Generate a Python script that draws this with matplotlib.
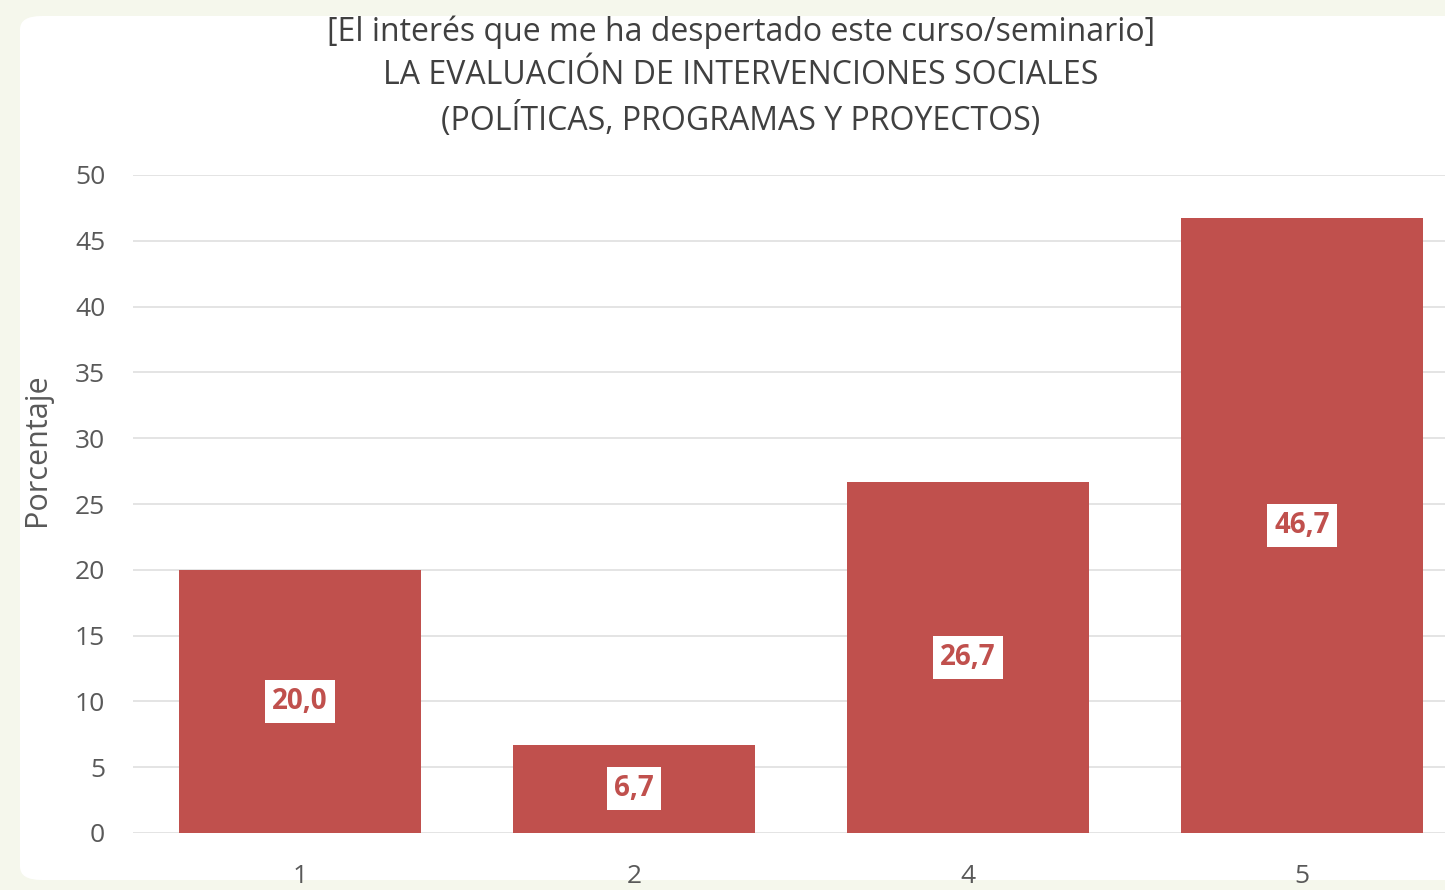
import matplotlib
matplotlib.use("Agg")
import matplotlib.pyplot as plt
from matplotlib.patches import FancyBboxPatch
import numpy as np

categories = ["1", "2", "4", "5"]
values = [20.0, 6.7, 26.7, 46.7]
value_labels = ["20,0", "6,7", "26,7", "46,7"]
yticks = [0, 5, 10, 15, 20, 25, 30, 35, 40, 45, 50]
title_lines = ["[El interés que me ha despertado este curso/seminario]",
               "LA EVALUACIÓN DE INTERVENCIONES SOCIALES",
               "(POLÍTICAS, PROGRAMAS Y PROYECTOS)"]
ylabel = "Porcentaje"

plt.rcParams['font.family'] = ['Open Sans', 'DejaVu Sans']
W, H = 1445, 890
fig = plt.figure(figsize=(W / 100, H / 100), dpi=100)
fig.patch.set_facecolor("#F5F7EC")

panel = FancyBboxPatch((20 / W, 10 / H), (W + 40) / W, (H - 26) / H,
                       boxstyle="round,pad=0,rounding_size=0.015",
                       transform=fig.transFigure, facecolor="white",
                       edgecolor="none", zorder=-10)
fig.patches.append(panel)

bar_color = "#C0504D"
text_color = "#595959"

left, right = 133, 133 + 4 * 334
top, bottom = 175, 833
ax = fig.add_axes([left / W, 1 - bottom / H, (right - left) / W, (bottom - top) / H])
ax.set_zorder(1)
ax.set_facecolor("none")
x = np.arange(len(categories))
ax.bar(x, values, width=0.727, color=bar_color, zorder=2)
ax.set_xlim(-0.5, len(categories) - 0.5)
ax.set_ylim(0, 50)
ax.set_yticks(yticks)
ax.set_xticks(x)
ax.set_xticklabels(categories)
ax.yaxis.grid(True, color="#E4E4E4", linewidth=1.4, zorder=0)
ax.set_axisbelow(True)
for s in ax.spines.values():
    s.set_visible(False)
ax.tick_params(axis='both', length=0, labelsize=19, labelcolor=text_color)
ax.tick_params(axis='y', pad=20)
ax.tick_params(axis='x', pad=22)

for xi, v, lab in zip(x, values, value_labels):
    ax.text(xi, v / 2, lab, ha='center', va='center', fontsize=20, fontweight='bold',
            color=bar_color, zorder=3,
            bbox=dict(boxstyle='square,pad=0.25', facecolor='white', edgecolor='none'))

fig.text(37 / W, 1 - 450 / H, ylabel, rotation=90, ha='center', va='center',
         fontsize=22, color=text_color)

for yy, t in zip([32, 75, 120], title_lines):
    fig.text(741 / W, 1 - yy / H, t, ha='center', va='center', fontsize=23, color="#404040")

fig.savefig("out.png", dpi=100, facecolor=fig.get_facecolor())
